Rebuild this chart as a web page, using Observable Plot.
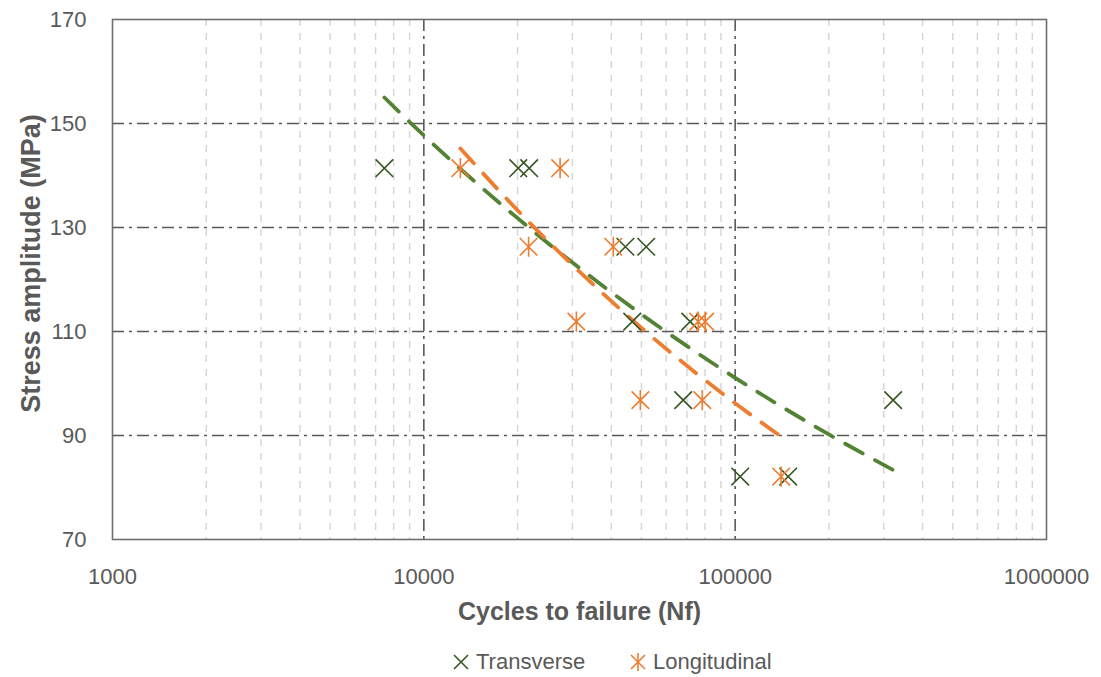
<!DOCTYPE html>
<html>
<head>
<meta charset="utf-8">
<script src="https://cdn.jsdelivr.net/npm/d3@7"></script>
<script src="https://cdn.jsdelivr.net/npm/@observablehq/plot@0.6"></script>
<style>
  html, body { margin: 0; padding: 0; background: #ffffff; }
  body { width: 1101px; height: 677px; position: relative; overflow: hidden;
         font-family: "Liberation Sans", Arial, sans-serif; }
  #chart { position: absolute; left: 0; top: 0; }
  #legend { position: absolute; left: 0; top: 640px; width: 1101px; height: 37px; }
  .item { position: absolute; top: 0; display: flex; align-items: center; height: 44px;
          font-size: 22px; color: #595959; }
  .item svg { margin-right: 6px; }
</style>
</head>
<body>
<div id="chart"></div>
<div id="legend"></div>
<script>
// ---- data ----
const seriesNames = ["Transverse", "Longitudinal"];
const transverseCycles = [7470, 20100, 21800, 44400, 51800, 46700, 71700, 68100, 321600, 103800, 148000];
const transverseStress = [141.4, 141.4, 141.4, 126.3, 126.3, 111.9, 111.9, 96.8, 96.8, 82.1, 82.1];
const longitudinalCycles = [13100, 27400, 21700, 40600, 30900, 76100, 80100, 49600, 78400, 140500];
const longitudinalStress = [141.4, 141.4, 126.3, 126.3, 111.9, 111.9, 111.9, 96.8, 96.8, 82.1];
// power trend lines
const transverseTrendCycles = [7470, 10000, 20000, 50000, 100000, 200000, 330000];
const transverseTrendStress = [155.0, 147.7, 131.8, 113.3, 101.1, 90.2, 83.0];
const longitudinalTrendCycles = [13100, 20000, 50000, 100000, 137400];
const longitudinalTrendStress = [145.2, 133.3, 110.7, 96.2, 90.2];
// axes
const xTicks = [1000, 10000, 100000, 1000000];
const xMinorTicks = [2000, 3000, 4000, 5000, 6000, 7000, 8000, 9000,
                     20000, 30000, 40000, 50000, 60000, 70000, 80000, 90000,
                     200000, 300000, 400000, 500000, 600000, 700000, 800000, 900000];
const xMajorGrid = [10000, 100000];
const yTicks = [70, 90, 110, 130, 150, 170];
const yGrid = [90, 110, 130, 150];
const xTitle = "Cycles to failure (Nf)";
const yTitle = "Stress amplitude (MPa)";

// ---- tables ----
const transverse = transverseCycles.map((c, i) => ({cycles: c, stress: transverseStress[i]}));
const longitudinal = longitudinalCycles.map((c, i) => ({cycles: c, stress: longitudinalStress[i]}));
const transverseTrend = transverseTrendCycles.map((c, i) => ({cycles: c, stress: transverseTrendStress[i]}));
const longitudinalTrend = longitudinalTrendCycles.map((c, i) => ({cycles: c, stress: longitudinalTrendStress[i]}));

const darkGreen = "#375623";
const green = "#548235";
const orange = "#ED7D31";
const grey = "#595959";

const symTimes = {
  draw(ctx, size) {
    const r = Math.sqrt(size) * 0.62;
    ctx.moveTo(-r, -r); ctx.lineTo(r, r);
    ctx.moveTo(-r, r); ctx.lineTo(r, -r);
  }
};
const symStar = {
  draw(ctx, size) {
    const r = Math.sqrt(size) * 0.62;
    const v = r * 1.15;
    ctx.moveTo(-r, -r); ctx.lineTo(r, r);
    ctx.moveTo(-r, r); ctx.lineTo(r, -r);
    ctx.moveTo(0, -v); ctx.lineTo(0, v);
  }
};

const chart = Plot.plot({
  width: 1101,
  height: 640,
  marginLeft: 112,
  marginRight: 55,
  marginTop: 19,
  marginBottom: 101,
  style: {fontFamily: "'Liberation Sans', Arial, sans-serif", fontSize: "22px", color: grey, background: "#ffffff", overflow: "visible"},
  x: {type: "log", domain: [1000, 1000000]},
  y: {domain: [70, 170]},
  marks: [
    Plot.ruleX(xMinorTicks, {stroke: "#d4d4d4", strokeWidth: 1.4, strokeDasharray: "7,7"}),
    Plot.ruleX(xMajorGrid, {stroke: grey, strokeWidth: 1.6, strokeDasharray: "12,5,3,5"}),
    Plot.ruleY(yGrid, {stroke: grey, strokeWidth: 1.6, strokeDasharray: "12,5,3,5"}),
    Plot.frame({stroke: "#6f6f6f", strokeWidth: 1.6}),
    Plot.axisX({ticks: xTicks, tickSize: 0, tickPadding: 29, tickFormat: d => String(d), label: null, fill: grey}),
    Plot.axisY({ticks: yTicks, tickSize: 0, tickPadding: 26, tickFormat: d => String(d), label: null, fill: grey}),
    Plot.text([xTitle], {frameAnchor: "bottom", dy: 80, text: d => d, fontWeight: "bold", fontSize: 25, fill: grey}),
    Plot.text([yTitle], {frameAnchor: "left", textAnchor: "middle", lineAnchor: "middle", dx: -81, dy: -16, rotate: -90,
      text: d => d, fontWeight: "bold", fontSize: 27, fill: grey}),
    Plot.line(transverseTrend, {x: "cycles", y: "stress", curve: "monotone-x", stroke: green, strokeWidth: 3.8,
      strokeDasharray: "20,14", strokeLinecap: "round"}),
    Plot.line(longitudinalTrend, {x: "cycles", y: "stress", curve: "monotone-x", stroke: orange, strokeWidth: 3.8,
      strokeDasharray: "20,14", strokeLinecap: "round"}),
    Plot.dot(transverse, {x: "cycles", y: "stress", symbol: symTimes, r: 8, stroke: darkGreen, strokeWidth: 1.6, fill: "none"}),
    Plot.dot(longitudinal, {x: "cycles", y: "stress", symbol: symStar, r: 8, stroke: orange, strokeWidth: 1.6, fill: "none"})
  ]
});
document.getElementById("chart").appendChild(chart);

// legend
const legend = document.getElementById("legend");
const legendItems = [
  {name: seriesNames[0], color: darkGreen, left: 452, path: "M2,2L16,16M2,16L16,2"},
  {name: seriesNames[1], color: orange, left: 629, path: "M2,2L16,16M2,16L16,2M9,0L9,18"}
];
legendItems.forEach(it => {
  const div = document.createElement("div");
  div.className = "item";
  div.style.left = it.left + "px";
  div.innerHTML = `<svg width="18" height="18" viewBox="0 0 18 18"><path d="${it.path}" stroke="${it.color}" stroke-width="1.6" fill="none"/></svg><span>${it.name}</span>`;
  legend.appendChild(div);
});
</script>
</body>
</html>
